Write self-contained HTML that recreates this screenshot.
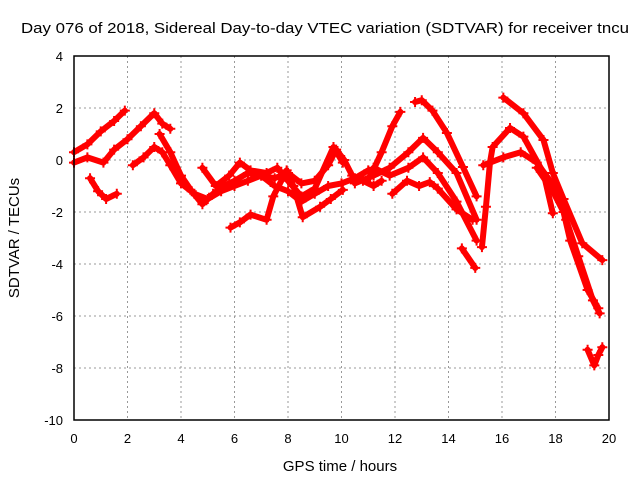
<!DOCTYPE html>
<html><head><meta charset="utf-8"><style>
body{margin:0;background:#fff}
svg{display:block;font-family:"Liberation Sans",sans-serif}
</style></head><body>
<svg id="chart" width="640" height="480">
<text x="21" y="33" font-size="15" textLength="608" lengthAdjust="spacingAndGlyphs">Day 076 of 2018, Sidereal Day-to-day VTEC variation (SDTVAR) for receiver tncu</text>
<text x="0" y="0" transform="translate(19,238) rotate(-90)" font-size="15" text-anchor="middle">SDTVAR / TECUs</text>
<text x="340" y="471" font-size="15" text-anchor="middle">GPS time / hours</text>
<g id="grid"></g><g id="ticks"></g><g id="marks"></g>
<rect x="74" y="56" width="535" height="364" fill="none" stroke="#000" stroke-width="1.5"/>
</svg>
<script>
const xTicks=[0,2,4,6,8,10,12,14,16,18,20];
const yTicks=[4,2,0,-2,-4,-6,-8,-10];
const seg1=[[0,0.3],[0.5,0.6],[1,1.1],[1.5,1.5],[1.9,1.9]];
const seg2=[[0,-0.1],[0.5,0.1],[1.1,-0.1],[1.5,0.4],[2,0.8],[2.5,1.3],[3,1.8],[3.3,1.4],[3.6,1.2]];
const seg3=[[0.6,-0.7],[0.9,-1.2],[1.2,-1.5],[1.6,-1.3]];
const seg4=[[2.2,-0.2],[2.6,0.1],[3,0.5],[3.3,0.3],[3.6,-0.2],[4,-0.9],[4.5,-1.3],[5,-1.5],[5.5,-1.2],[6,-1.0],[6.5,-0.8],[7,-0.6],[7.5,-1.0],[8,-1.2],[8.5,-1.6],[9,-1.3],[9.5,-1.0],[10,-0.9],[10.5,-0.7],[11,-0.4]];
const seg5=[[3.2,1.0],[3.6,0.3],[4,-0.6],[4.4,-1.2],[4.8,-1.7],[5.2,-1.3],[5.6,-1.0],[6,-0.8],[6.5,-0.5],[7,-0.6],[7.5,-0.7],[8,-0.5],[8.5,-0.9],[9,-0.8],[9.5,-0.2],[9.8,0.4],[10.1,0],[10.4,-0.6],[10.8,-0.8],[11.2,-1.0],[11.5,-0.8]];
const seg6=[[5.85,-2.6],[6.2,-2.4],[6.6,-2.1],[7.2,-2.3],[7.45,-1.4],[7.95,-0.4],[8.2,-1.0],[8.55,-2.2],[9.2,-1.8],[9.6,-1.5],[10.05,-1.15]];
const seg7=[[4.8,-0.3],[5.3,-1.0],[5.8,-0.6],[6.2,-0.1],[6.6,-0.4],[7.2,-0.5],[7.6,-0.3],[8,-0.8],[8.5,-1.4],[9,-1.1],[9.7,0.5],[10.05,-0.1]];
const seg8=[[11.07,-0.65],[11.5,0.3],[11.9,1.3],[12.2,1.85]];
const seg9=[[12.75,2.23],[13,2.3],[13.4,1.9],[13.94,1.04],[14.54,-0.27],[15.05,-1.4]];
const seg10=[[10.5,-0.9],[11.2,-0.6],[11.8,-0.3],[12.5,0.3],[13.05,0.85],[13.6,0.3],[14.3,-0.5],[15.05,-2.3]];
const seg11=[[11.2,-0.3],[11.8,-0.6],[12.5,-0.3],[13.05,0.1],[13.6,-0.5],[14.3,-1.6],[15.05,-3.1]];
const seg12=[[11.9,-1.3],[12.45,-0.8],[12.9,-1.0],[13.3,-0.85],[13.6,-1.1],[14.3,-1.9],[14.9,-2.3]];
const seg13=[[14.5,-3.4],[15.0,-4.15]];
const seg14=[[15.25,-3.35],[15.4,-1.8],[15.55,-0.1],[15.65,0.5],[16.3,1.23],[16.8,0.9],[17.55,-0.5],[17.9,-2.05]];
const seg15=[[16.05,2.4],[16.8,1.8],[17.55,0.77],[17.9,-0.5],[18.3,-1.5],[19.0,-3.2],[19.75,-3.85]];
const seg16=[[15.3,-0.2],[16.05,0.1],[16.7,0.3],[17.3,-0.1],[18.05,-1.15],[18.4,-2.3],[18.85,-3.7],[19.4,-5.4],[19.65,-5.9]];
const seg17=[[17.3,-0.3],[17.9,-1.2],[18.3,-2.0],[18.55,-3.1],[19.2,-5.0],[19.6,-5.7]];
const seg18=[[19.2,-7.3],[19.45,-7.9],[19.6,-7.5],[19.75,-7.2]];
const series=[seg1,seg2,seg3,seg4,seg5,seg6,seg7,seg8,seg9,seg10,seg11,seg12,seg13,seg14,seg15,seg16,seg17,seg18];
const X0=74,X1=609,Y0=56,Y1=420;
function xs(h){return X0+(h-0)/20*(X1-X0);}
function ys(v){return Y0+(4-v)/14*(Y1-Y0);}
const NS="http://www.w3.org/2000/svg";
const grid=document.getElementById('grid'),ticks=document.getElementById('ticks'),marks=document.getElementById('marks');
function mk(t,a,p){const e=document.createElementNS(NS,t);for(const k in a)e.setAttribute(k,a[k]);p.appendChild(e);return e;}
xTicks.forEach(t=>{const x=xs(t);
 if(t>0&&t<20){const g=mk('line',{x1:x,x2:x,y1:Y0,y2:Y1,stroke:'#999','stroke-dasharray':'2,3'},grid);
 
 }
 const l=mk('text',{x:x,y:443,'font-size':13,'text-anchor':'middle'},ticks);l.textContent=t;
 
 });
yTicks.forEach(t=>{const y=ys(t);
 if(t<4&&t>-10){const g=mk('line',{x1:X0,x2:X1,y1:y,y2:y,stroke:'#999','stroke-dasharray':'2,3'},grid);
 
 }
 const l=mk('text',{x:63,y:y+5,'font-size':13,'text-anchor':'end'},ticks);l.textContent=t;
 
 });
series.forEach(s=>{
 const pl=mk('polyline',{points:s.map(p=>xs(p[0])+','+ys(p[1])).join(' '),fill:'none',stroke:'#f00','stroke-width':6,'stroke-linejoin':'round','stroke-linecap':'round'},marks);
 
 
 s.forEach(p=>{const x=xs(p[0]),y=ys(p[1]);
  const m=mk('path',{d:`M${x-5},${y}h10M${x},${y-5}v10`,stroke:'#f00','stroke-width':2},marks);
  
  });
});
</script>
</body></html>
